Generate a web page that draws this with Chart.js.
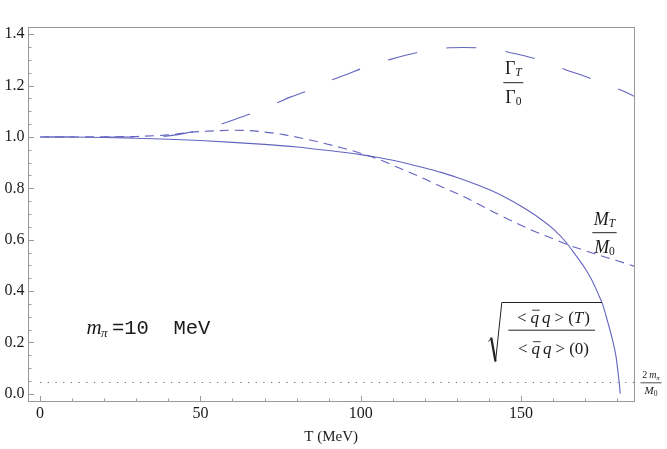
<!DOCTYPE html>
<html>
<head>
<meta charset="utf-8">
<script src="https://cdn.jsdelivr.net/npm/chart.js@4"></script>
<style>
  html, body { margin: 0; padding: 0; background: #fff; }
  #wrap { width: 667px; height: 449px; position: relative; }
</style>
</head>
<body>
<div id="wrap"><canvas id="c" width="667" height="449"></canvas></div>
<script>
// ---- data ----
const condT = [0,10,20,30,40,50,60,70,80,90,100,105,110,115,120,125,130,135,140,145,150,155,160,164,167,170,172,174,175.5,177,178.5,179.6,180.3,180.7,180.9];
const condV = [1.0,0.9995,0.998,0.995,0.991,0.986,0.979,0.971,0.961,0.947,0.931,0.921,0.909,0.895,0.879,0.862,0.842,0.820,0.795,0.765,0.730,0.690,0.642,0.590,0.540,0.487,0.444,0.390,0.345,0.280,0.210,0.145,0.075,0.030,0.0];

const massT = [0,10,20,30,40,45,50,55,60,65,70,76,82,88,94,98,106,112,120,126,132,142,153,160,164,170,174,180,185.2];
const massV = [1.0,1.0,1.0005,1.002,1.008,1.015,1.021,1.024,1.026,1.025,1.019,1.009,0.994,0.977,0.958,0.944,0.911,0.879,0.836,0.801,0.768,0.704,0.639,0.603,0.583,0.557,0.541,0.518,0.497];

const widthT = [0,10,20,30,34,38.5,43,47,52,56,60,65,70,74,78,83,87,91,96,100,105,109,114,118.5,123,127.5,132,137,142,146,151,156,160,164,169,174,178,182,185.2];
const widthV = [1.0,1.0,1.0,1.0,1.0,1.002,1.009,1.019,1.032,1.048,1.065,1.087,1.112,1.133,1.155,1.178,1.200,1.222,1.245,1.265,1.285,1.301,1.318,1.331,1.340,1.347,1.348,1.347,1.341,1.330,1.316,1.299,1.282,1.261,1.240,1.217,1.197,1.178,1.158];

const threshT = [0, 185.2];
const threshV = [0.044, 0.044];

const xTicks = [0, 50, 100, 150];
const yTicks = [0.0, 0.2, 0.4, 0.6, 0.8, 1.0, 1.2, 1.4];
const xMinorStep = 10, yMinorStep = 0.05;
const xRange = [-3.63, 185.2];
const yRange = [-0.028, 1.428];

// ---- build ----
const zip = (a, b) => a.map((t, i) => ({ x: t, y: b[i] }));
const lineColor = 'rgb(100,100,192)';
const serif = '"Liberation Serif", "Times New Roman", serif';

function runsWidth(ctx, runs) {
  let w = 0;
  for (const r of runs) { ctx.font = r.f; w += ctx.measureText(r.t).width + (r.gap || 0); }
  return w;
}
function drawRuns(ctx, runs, x, base) {
  for (const r of runs) {
    ctx.font = r.f;
    ctx.fillText(r.t, x, base + (r.dy || 0));
    const w = ctx.measureText(r.t).width;
    if (r.bar) { ctx.save(); ctx.lineWidth = 0.9; ctx.beginPath(); ctx.moveTo(x + 1.5, base - 12.5); ctx.lineTo(x + w + 0.5, base - 12.5); ctx.stroke(); ctx.restore(); }
    x += w + (r.gap || 0);
  }
}
function drawFrac(ctx, cx, ly, x0, x1, num, den, nb, db) {
  ctx.beginPath(); ctx.moveTo(x0, ly + 0.5); ctx.lineTo(x1, ly + 0.5); ctx.stroke();
  drawRuns(ctx, num, cx - runsWidth(ctx, num) / 2, ly - nb);
  drawRuns(ctx, den, cx - runsWidth(ctx, den) / 2, ly + db);
}

const framePlugin = {
  id: 'frame',
  beforeDatasetsDraw(chart) {
    const { ctx, chartArea: a, scales: { x, y } } = chart;
    ctx.save();
    ctx.strokeStyle = '#9a9a9a';
    ctx.lineWidth = 1;
    const L = Math.round(a.left) + 0.5, R = Math.round(a.right) + 0.5;
    const T = Math.round(a.top) + 0.5, B = Math.round(a.bottom) + 0.5;
    ctx.strokeRect(L, T, R - L, B - T);
    ctx.beginPath();
    for (let v = 0; v <= 180 + 1e-9; v += xMinorStep) {
      const px = Math.round(x.getPixelForValue(v)) + 0.5;
      const major = xTicks.some(t => Math.abs(t - v) < 1e-6);
      ctx.moveTo(px, B); ctx.lineTo(px, B - (major ? 5.5 : 3));
    }
    for (let k = 0; k <= 28; k++) {
      const v = k * yMinorStep;
      const py = Math.round(y.getPixelForValue(v)) + 0.5;
      const major = yTicks.some(t => Math.abs(t - v) < 1e-6);
      ctx.moveTo(L, py); ctx.lineTo(L + (major ? 5.5 : 3), py);
    }
    ctx.stroke();
    ctx.restore();
  },
  afterDraw(chart) {
    const { ctx } = chart;
    ctx.save();
    ctx.fillStyle = '#1a1a1a';
    ctx.strokeStyle = '#222';
    ctx.lineWidth = 1;
    ctx.textBaseline = 'alphabetic';
    const up = '18px ' + serif, it = 'italic 18px ' + serif;
    const sub = '11.5px ' + serif, subIt = 'italic 11.5px ' + serif;

    // Gamma_T / Gamma_0
    drawFrac(ctx, 513.3, 82.2, 503.3, 523.3,
      [{ t: 'Γ', f: up }, { t: 'T', f: subIt, dy: 2 }],
      [{ t: 'Γ', f: up }, { t: '0', f: sub, dy: 2.5 }], 8.5, 20.5);

    // M_T / M_0
    drawFrac(ctx, 604.5, 232.2, 592.3, 616.7,
      [{ t: 'M', f: it }, { t: 'T', f: subIt, dy: 2 }],
      [{ t: 'M', f: it }, { t: '0', f: sub, dy: 2.5 }], 7.5, 20.5);

    // sqrt(<qbar q>(T) / <qbar q>(0))
    const f17 = '17px ' + serif, i17 = 'italic 17px ' + serif;
    const numR = [{ t: '<', f: f17, gap: 4 }, { t: 'q', f: i17, gap: 3, bar: true }, { t: 'q', f: i17, gap: 4 },
                  { t: '>', f: f17, gap: 4 }, { t: '(', f: f17 }, { t: 'T', f: i17, gap: 1 }, { t: ')', f: f17 }];
    const denR = [{ t: '<', f: f17, gap: 4 }, { t: 'q', f: i17, gap: 3, bar: true }, { t: 'q', f: i17, gap: 4 },
                  { t: '>', f: f17, gap: 4 }, { t: '(', f: f17 }, { t: '0', f: f17 }, { t: ')', f: f17 }];
    drawFrac(ctx, 553.5, 329.7, 508.3, 595, numR, denR, 7, 24.5);
    ctx.beginPath();
    ctx.lineWidth = 1;
    ctx.moveTo(488.5, 341.5); ctx.lineTo(491.5, 338);
    ctx.stroke();
    ctx.beginPath(); ctx.lineWidth = 2.2;
    ctx.moveTo(491.2, 337.5); ctx.lineTo(495.5, 361.5);
    ctx.stroke();
    ctx.beginPath(); ctx.lineWidth = 1;
    ctx.moveTo(495.5, 361.5); ctx.lineTo(501.8, 302.5); ctx.lineTo(602, 302.5);
    ctx.stroke();

    // 2 m_pi / M_0 (outside frame, right)
    ctx.lineWidth = 0.8;
    drawFrac(ctx, 651, 382.3, 640.5, 661.5,
      [{ t: '2', f: '10px ' + serif, gap: 2 }, { t: 'm', f: 'italic 10px ' + serif }, { t: 'π', f: 'italic 7px ' + serif, dy: 2 }],
      [{ t: 'M', f: 'italic 11px ' + serif }, { t: '0', f: '7.5px ' + serif, dy: 2 }], 4, 12);

    // m_pi = 10 MeV
    ctx.font = 'italic 21px ' + serif;
    ctx.fillText('m', 86.5, 334);
    ctx.font = 'italic 13px ' + serif;
    ctx.fillText('π', 101, 337);
    ctx.font = '20.5px "Liberation Mono", "Courier New", monospace';
    ctx.fillText('=10  MeV', 112, 334);
    ctx.restore();
  }
};

new Chart(document.getElementById('c'), {
  type: 'scatter',
  data: {
    datasets: [
      { label: 'threshold', data: zip(threshT, threshV), showLine: true, borderColor: '#666', borderWidth: 1,
        borderDash: [1.2, 6.5], pointRadius: 0, order: 4 },
      { label: 'width', data: zip(widthT, widthV), showLine: true, borderColor: lineColor, borderWidth: 1.1,
        borderDash: [30, 29.5], borderDashOffset: 55, pointRadius: 0, cubicInterpolationMode: 'monotone', order: 3 },
      { label: 'mass', data: zip(massT, massV), showLine: true, borderColor: lineColor, borderWidth: 1.1,
        borderDash: [9, 6], pointRadius: 0, cubicInterpolationMode: 'monotone', order: 2 },
      { label: 'condensate', data: zip(condT, condV), showLine: true, borderColor: lineColor, borderWidth: 1.1,
        pointRadius: 0, cubicInterpolationMode: 'monotone', order: 1 }
    ]
  },
  options: {
    responsive: false,
    animation: false,
    devicePixelRatio: 1,
    layout: { padding: { top: 27, right: 33, left: 0, bottom: 0 } },
    plugins: { legend: { display: false }, tooltip: { enabled: false } },
    scales: {
      x: {
        type: 'linear', min: xRange[0], max: xRange[1],
        grid: { display: false, drawTicks: false }, border: { display: false },
        afterBuildTicks: s => { s.ticks = xTicks.map(v => ({ value: v })); },
        afterFit: s => { s.height = 48; },
        ticks: { color: '#1a1a1a', padding: 3, font: { family: 'Liberation Serif', size: 16 }, maxRotation: 0,
                 callback: v => String(v) },
        title: { display: true, text: 'T (MeV)', color: '#1a1a1a', font: { family: 'Liberation Serif', size: 15 },
                 padding: { top: 0, bottom: 3 } }
      },
      y: {
        type: 'linear', min: yRange[0], max: yRange[1],
        grid: { display: false, drawTicks: false }, border: { display: false },
        afterBuildTicks: s => { s.ticks = yTicks.map(v => ({ value: v })); },
        afterFit: s => { s.width = 28.4; },
        ticks: { color: '#1a1a1a', padding: 4, font: { family: 'Liberation Serif', size: 16 },
                 callback: v => Number(v).toFixed(1) }
      }
    }
  },
  plugins: [framePlugin]
});
</script>
</body>
</html>
